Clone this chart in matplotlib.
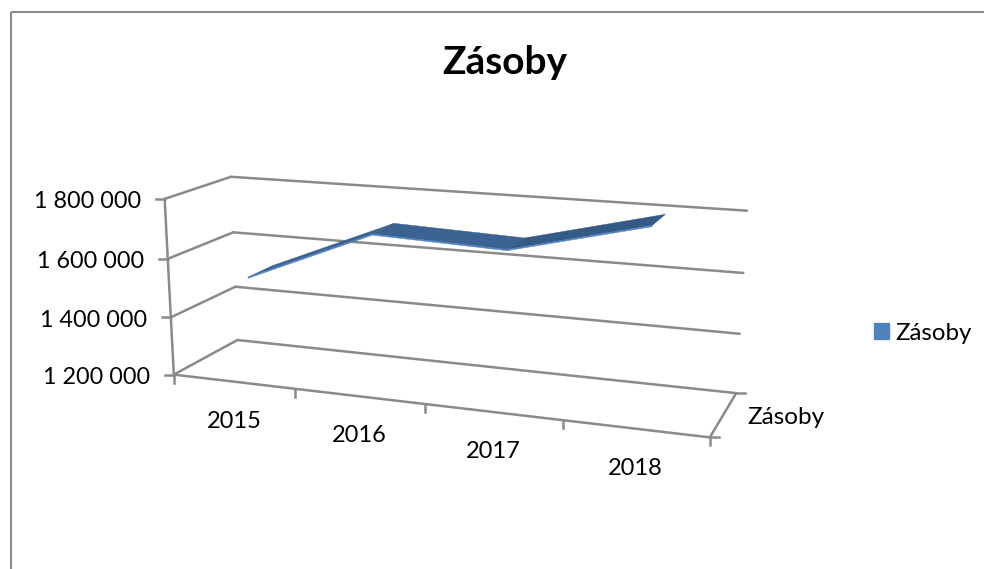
import numpy as np
import matplotlib
matplotlib.use("Agg")
import matplotlib.pyplot as plt
from matplotlib.patches import Patch, Rectangle

title = "Zásoby"
series_name = "Zásoby"
years = ["2015", "2016", "2017", "2018"]
zasoby = [1528000, 1708000, 1692000, 1800000]
value_ticks = [1200000, 1400000, 1600000, 1800000]
value_labels = ["1 200 000", "1 400 000", "1 600 000", "1 800 000"]

GRID = "#8A8A8A"
RIBBON_TOP = "#3C6291"
RIBBON_DARK = "#365A88"
RIBBON_FRONT = "#4F81BD"

plt.rcParams["font.family"] = ["Lato", "DejaVu Sans"]

# camera fit: wall corners in the picture, (category pos, value, depth) -> pixel
scene = np.array([(0, 1.2e6, 0), (0, 1.4e6, 0), (0, 1.6e6, 0), (0, 1.8e6, 0),
                  (0, 1.2e6, 1), (0, 1.4e6, 1), (0, 1.6e6, 1), (0, 1.8e6, 1),
                  (4, 1.2e6, 1), (4, 1.4e6, 1), (4, 1.6e6, 1), (4, 1.8e6, 1),
                  (4, 1.2e6, 0), (1, 1.2e6, 0), (2, 1.2e6, 0), (3, 1.2e6, 0)], float)
pixels = np.array([(174, 375), (171, 317), (167.5, 259), (165, 199),
                   (238, 340), (235, 287), (233, 232), (231, 176.5),
                   (736, 393), (740, 334), (743, 273), (747, 211),
                   (710, 437), (295, 389), (424, 404), (563, 420)], float)


def fit_camera(scene, pixels):
    rows, rhs = [], []
    for (x, y, z), (u, v) in zip(scene, pixels):
        y = y / 1e6
        rows.append([x, y, z, 1, 0, 0, 0, 0, -u*x, -u*y, -u*z])
        rhs.append(u)
        rows.append([0, 0, 0, 0, x, y, z, 1, -v*x, -v*y, -v*z])
        rhs.append(v)
    p = np.linalg.lstsq(np.array(rows), np.array(rhs), rcond=None)[0]
    return np.append(p, 1).reshape(3, 4)


P = fit_camera(scene, pixels)


def project(x, value, z):
    h = P @ np.array([x, value / 1e6, z, 1.0])
    return h[0] / h[2], h[1] / h[2]


def line3d(ax, a, b, lw=1.8):
    pa, pb = project(*a), project(*b)
    ax.plot([pa[0], pb[0]], [pa[1], pb[1]], color=GRID, lw=lw, solid_capstyle="round")


def main():
    fig = plt.figure(figsize=(9.84, 5.69), dpi=100)
    ax = fig.add_axes([0, 0, 1, 1])
    ax.set_xlim(0, 984)
    ax.set_ylim(569, 0)
    ax.axis("off")

    # outer chart frame runs off the picture on the right and at the bottom
    ax.add_patch(Rectangle((10.5, 11.5), 1100, 700, fill=False, ec="#8C8C8C", lw=1.5))

    ax.text(505, 62, title, fontsize=28, fontweight="bold", ha="center", va="center")

    # walls
    n = len(years)
    for v, lab in zip(value_ticks, value_labels):
        line3d(ax, (0, v, 0), (0, v, 1))
        line3d(ax, (0, v, 1), (n, v, 1))
        x0, y0 = project(0, v, 0)
        ax.plot([x0 - 9, x0], [y0, y0], color=GRID, lw=1.8)
        ax.text(x0 - 24, y0 + 3, lab, fontsize=16.8, ha="right", va="center")
    line3d(ax, (0, value_ticks[0], 0), (0, value_ticks[-1], 0))
    line3d(ax, (0, value_ticks[0], 0), (n, value_ticks[0], 0))
    line3d(ax, (n, value_ticks[0], 0), (n, value_ticks[0], 1))

    # category ticks and labels
    for i in range(n + 1):
        x0, y0 = project(i, value_ticks[0], 0)
        ax.plot([x0, x0], [y0, y0 + 8], color=GRID, lw=1.8)
    label_pos = [(234, 421), (359, 435), (493, 451), (635, 468)]
    for yr, (lx, ly) in zip(years, label_pos):
        ax.text(lx, ly, yr, fontsize=17, ha="center", va="center")

    # depth axis ticks and label
    for z in (0, 1):
        x0, y0 = project(n, value_ticks[0], z)
        ax.plot([x0, x0 + 9], [y0, y0], color=GRID, lw=1.8)
    ax.text(747, 417, series_name, fontsize=17.5, ha="left", va="center")

    # the series ribbon
    z0, z1 = 0.28, 0.68
    thick = 4000
    xs = np.arange(n) + 0.5
    for i in range(n - 1):
        top = [project(xs[i], zasoby[i], z0), project(xs[i + 1], zasoby[i + 1], z0),
               project(xs[i + 1], zasoby[i + 1], z1), project(xs[i], zasoby[i], z1)]
        col = RIBBON_DARK if i == 2 else RIBBON_TOP
        ax.fill(*zip(*top), color=col, lw=0.3, zorder=3)
        front = [project(xs[i], zasoby[i], z0), project(xs[i + 1], zasoby[i + 1], z0),
                 project(xs[i + 1], zasoby[i + 1] - thick, z0), project(xs[i], zasoby[i] - thick, z0)]
        ax.fill(*zip(*front), color=RIBBON_FRONT, lw=0.3, zorder=4)

    ax.legend(handles=[Patch(color=RIBBON_FRONT, label=series_name)], frameon=False,
              fontsize=17.3, handlelength=0.62, handleheight=0.62, handletextpad=0.25,
              loc="center left", bbox_to_anchor=(874, 333), bbox_transform=ax.transData,
              borderpad=0, borderaxespad=0)

    fig.savefig("out.png", dpi=100)


if __name__ == "__main__":
    main()
